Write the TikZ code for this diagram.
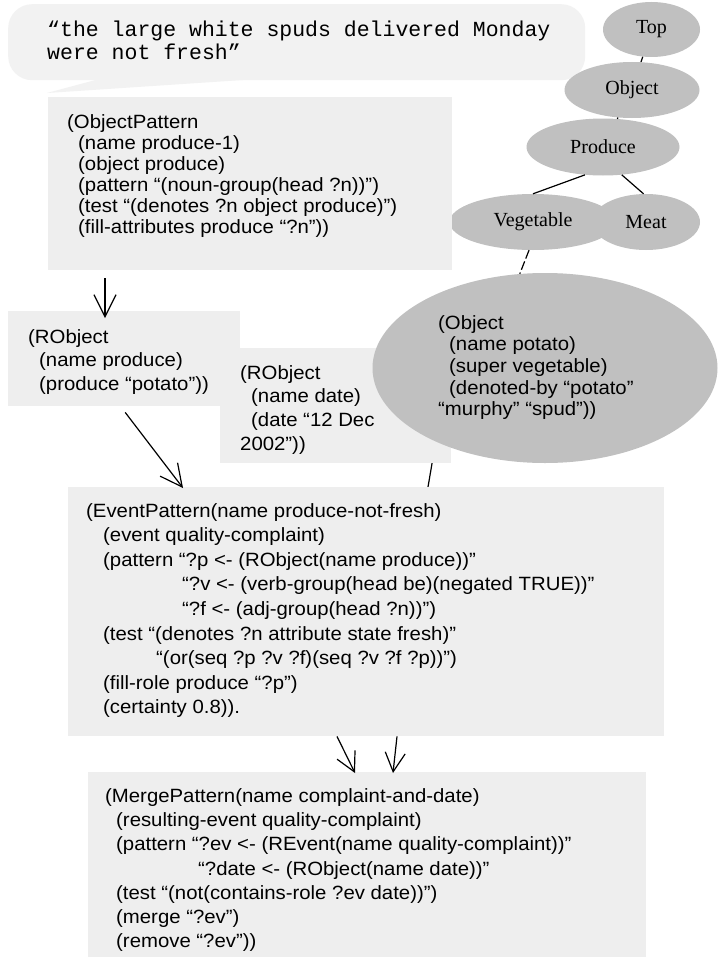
\documentclass[tikz,border=0pt]{standalone}
\usepackage{fontspec}
\setmainfont{Liberation Sans}
\newfontfamily\codefont{Liberation Sans}[FakeStretch=1.06]
\newfontfamily\speechfont{Liberation Mono}
\newfontfamily\classfont{Liberation Serif}
\usetikzlibrary{shapes.geometric,arrows.meta,calc}

\definecolor{bubblegray}{HTML}{F2F2F2}
\definecolor{boxgray}{HTML}{EEEEEE}
\definecolor{classgray}{HTML}{C0C0C0}

% leading indentation of a code line, in pt
\newcommand\ind[1]{\hspace*{#1pt}}

\pgfdeclarelayer{linklayer}
\pgfsetlayers{linklayer,main}

\tikzset{
  patternbox/.style={rectangle, fill=boxgray, draw=none, inner sep=0pt, anchor=north west},
  classnode/.style={ellipse, fill=classgray, draw=none, inner sep=0pt,
    font=\classfont\fontsize{20}{24}\selectfont},
  codetext/.style={anchor=north west, inner sep=0pt, align=left},
  codesize/.style={font=\codefont\fontsize{19.2}{#1}\selectfont},
  link/.style={line width=1.2pt},
  flow/.style={line width=1.2pt, -{Straight Barb[length=22pt,width=22pt]}},
  flowsmall/.style={line width=1.2pt, -{Straight Barb[length=19pt,width=20pt]}},
}

\begin{document}
\begin{tikzpicture}[x=1pt, y=-1pt]
\useasboundingbox (0,0) rectangle (721,958);
\begin{pgfonlayer}{linklayer}
\fill[white] (0,0) rectangle (721,958);
\end{pgfonlayer}

% speech bubble with the input sentence
\node[rectangle, fill=bubblegray, rounded corners=24pt, minimum width=577pt,
      minimum height=76pt, inner sep=0pt, anchor=north west] (bubble) at (8,4) {};
\fill[bubblegray] (103,78) -- (47,93) -- (258,79) -- cycle;
\node[anchor=north west, inner sep=0pt, align=left,
      font=\speechfont\fontsize{21.5}{23}\selectfont] (sentence) at (47,21)
  {“the large white spuds delivered Monday\\were not fresh”};

% class hierarchy
\node[classnode, minimum width=97pt,  minimum height=55pt] (top)  at (651.5,29.5) {Top};
\node[classnode, minimum width=135pt, minimum height=56pt] (obj)  at (632,90)  {Object};
\node[classnode, minimum width=153pt, minimum height=57pt] (prod) at (603,147) {Produce};
\node[classnode, minimum width=167pt, minimum height=56pt] (veg)  at (533,222) {Vegetable};
\node[classnode, minimum width=108pt, minimum height=56pt] (meat) at (646,222) {Meat};
\draw[link] (top) -- (obj);
\draw[link] (obj) -- (prod);
\draw[link] (prod.237) -- (veg.north);
\draw[link] (prod.304) -- (meat.95);

% object pattern
\node[patternbox, minimum width=404pt, minimum height=173pt] (objpat) at (48,97) {};
\node[codetext, codesize=21] (objpattext) at (67,114.5)
  {(ObjectPattern\\
   \ind{11}(name produce-1)\\
   \ind{11}(object produce)\\
   \ind{11}(pattern “(noun-group(head ?n))”)\\
   \ind{11}(test “(denotes ?n object produce)”)\\
   \ind{11}(fill-attributes produce “?n”))};

% recognised objects
\node[patternbox, minimum width=232pt, minimum height=95pt] (rprod) at (8,311) {};
\node[codetext, codesize=23.5] (rprodtext) at (28,329)
  {(RObject\\
   \ind{11}(name produce)\\
   \ind{11}(produce “potato”))};

% event pattern and merge pattern boxes
\node[patternbox, minimum width=596pt, minimum height=249pt] (event) at (68,487) {};
\node[patternbox, minimum width=558pt, minimum height=185pt] (merge) at (88,772) {};

\node[patternbox, minimum width=231pt, minimum height=115pt] (rdate) at (220,348) {};
\node[codetext, codesize=23.7] (rdatetext) at (240,365)
  {(RObject\\
   \ind{11}(name date)\\
   \ind{11}(date “12 Dec\\
   2002”))};

% the potato class instance
\node[ellipse, fill=classgray, draw=none, inner sep=0pt, minimum width=345pt,
      minimum height=190pt] (potato) at (545,368) {};
\node[codetext, codesize=21.7] (potatotext) at (438,315)
  {(Object\\
   \ind{11}(name potato)\\
   \ind{11}(super vegetable)\\
   \ind{11}(denoted-by “potato”\\
   “murphy” “spud”))};
\draw[link, dash pattern=on 9pt off 3pt] (veg.262) -- (potato.105);

% link from the potato object down to the event pattern, passing behind the date box
\begin{pgfonlayer}{linklayer}
\draw[link] (potato.214) -- ($(event.north west)+(360,0)$);
\end{pgfonlayer}

% event pattern text
\node[codetext, codesize=24.6] (eventtext) at (86,503)
  {(EventPattern(name produce-not-fresh)\\
   \ind{17}(event quality-complaint)\\
   \ind{17}(pattern “?p <- (RObject(name produce))”\\
   \ind{96}“?v <- (verb-group(head be)(negated TRUE))”\\
   \ind{96}“?f <- (adj-group(head ?n))”)\\
   \ind{17}(test “(denotes ?n attribute state fresh)”\\
   \ind{70}“(or(seq ?p ?v ?f)(seq ?v ?f ?p))”)\\
   \ind{17}(fill-role produce “?p”)\\
   \ind{17}(certainty 0.8)).};

% merge pattern text
\node[codetext, codesize=24.3] (mergetext) at (105,788)
  {(MergePattern(name complaint-and-date)\\
   \ind{11}(resulting-event quality-complaint)\\
   \ind{11}(pattern “?ev <- (REvent(name quality-complaint))”\\
   \ind{93}“?date <- (RObject(name date))”\\
   \ind{11}(test “(not(contains-role ?ev date))”)\\
   \ind{11}(merge “?ev”)\\
   \ind{11}(remove “?ev”))};

% flow arrows
\draw[flow] ($(objpat.south west)+(57,8)$) -- ($(rprod.north west)+(97,7)$);
\draw[flow] ($(rprod.south)+(1,6)$) -- ($(event.north west)+(115,1)$);
\draw[flowsmall] ($(event.south west)+(269,0)$) -- ($(merge.north west)+(267,1)$);
\draw[flowsmall] ($(event.south west)+(329,0)$) -- ($(merge.north west)+(305,1)$);
\end{tikzpicture}
\end{document}
